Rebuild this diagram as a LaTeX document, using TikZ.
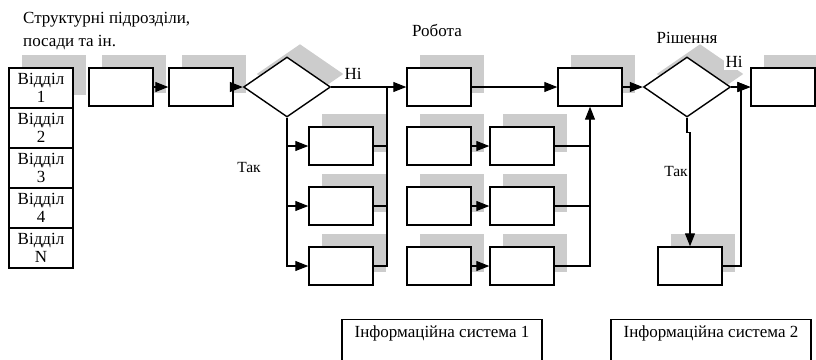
\documentclass[tikz,border=0pt]{standalone}
\usepackage{fontspec}
\setmainfont{Liberation Serif}
\usepackage{tikz}
\usetikzlibrary{arrows.meta,positioning,shapes.geometric,shadows,calc}
\definecolor{shadowgray}{RGB}{204,204,204}

\begin{document}
\begin{tikzpicture}[x=1pt,y=-1pt,
      sh/.style={general shadow={fill=shadowgray,shadow xshift=13pt,shadow yshift=13pt}},
      bx/.style={draw,fill=white,line width=1.4pt,minimum width=64pt,
                 minimum height=38pt,inner sep=0pt,sh},
      dep/.style={draw,fill=white,line width=1.4pt,minimum width=64pt,
                  minimum height=40pt,inner sep=0pt,align=center,
                  font=\fontsize{17}{18}\selectfont},
      dia/.style={diamond,draw,fill=white,line width=1.4pt,minimum width=87pt,
                  minimum height=60pt,inner sep=0pt,sh},
      info/.style={draw,line width=1.4pt,minimum width=200pt,text height=12pt,
                   text depth=40pt,inner ysep=6pt,anchor=north,
                   font=\fontsize{17}{18}\selectfont},
      lbl/.style={inner sep=0pt,font=\fontsize{17}{18}\selectfont},
      sm/.style={inner sep=0pt,font=\fontsize{15.5}{16}\selectfont},
      ln/.style={line width=1.2pt},
      a/.style={ln,-{Triangle[length=13pt,width=10pt]}}]
  \useasboundingbox (0,0) rectangle (816,359);
  \clip (0,0) rectangle (816,359);

  \node[lbl,anchor=north west,align=left,font=\fontsize{17}{23}\selectfont]
    (title) at (23,12) {Структурні підрозділи,\\посади та ін.};
  \node[dep,sh] (dep1) at (41,88) {Відділ\\1};
  \foreach \i/\t in {2/2,3/3,4/4,5/N} {
    \node[dep] (dep\i) at (41,{48+40*\i}) {Відділ\\\t};
  }

  \node[bx] (in1) at (121,87) {};
  \node[bx] (in2) at (201,87) {};
  \node[dia] (q1) at (287,87) {};
  \node[lbl] (no1) at (353,74) {Ні};
  \node[sm] (yes1) at (249,167) {Так};

  \node[lbl] (work) at (437,30) {Робота};
  \node[bx] (c2r1) at (439,87) {};
  \foreach \r/\y in {2/146,3/206,4/266} {
    \node[bx] (c1r\r) at (341,\y) {};
    \node[bx] (c2r\r) at (439,\y) {};
    \node[bx] (c3r\r) at (522,\y) {};
  }
  \node[bx] (mrg) at (590,87) {};

  \node[dia] (q2) at (687,87) {};
  \node[lbl] (dec) at (687,38) {Рішення};
  \node[bx] (out) at (783,87) {};
  \node[bx] (alt) at (690,266) {};
  \node[lbl,fill=white,inner sep=2pt] (no2) at (734,62) {Ні};
  \node[sm] (yes2) at (676,171) {Так};

  \node[info] (is1) at (442,319) {Інформаційна система 1};
  \node[info] (is2) at (711,319) {Інформаційна система 2};

  \coordinate (bus1) at (387,87);
  \coordinate (bus2) at (741,87);

  \draw[a] (in1) -- (in2);
  \draw[a] (in2) -- (q1);
  \draw[a] (q1.east) -- (c2r1);
  \draw[a] (q1.south) |- (c1r4);
  \foreach \r in {2,3} \draw[a] (q1.south |- c1r\r) -- (c1r\r);
  \draw[ln] (c1r4) -| (bus1);
  \foreach \r in {2,3} \draw[ln] (c1r\r) -- (c1r\r -| bus1);
  \foreach \r in {2,3,4} \draw[a] (c2r\r) -- (c3r\r);
  \draw[a] (c2r1) -- (mrg);
  \draw[a] (c3r4) -| (mrg);
  \foreach \r in {2,3} \draw[ln] (c3r\r) -- (c3r\r -| mrg);
  \draw[a] (mrg) -- (q2);
  \draw[a] (q2.east) -- (out);
  \draw[a] (q2.south) -- ++(0,15) -| (alt);
  \draw[a] (alt) -| (bus2) -- (out);
\end{tikzpicture}
\end{document}
